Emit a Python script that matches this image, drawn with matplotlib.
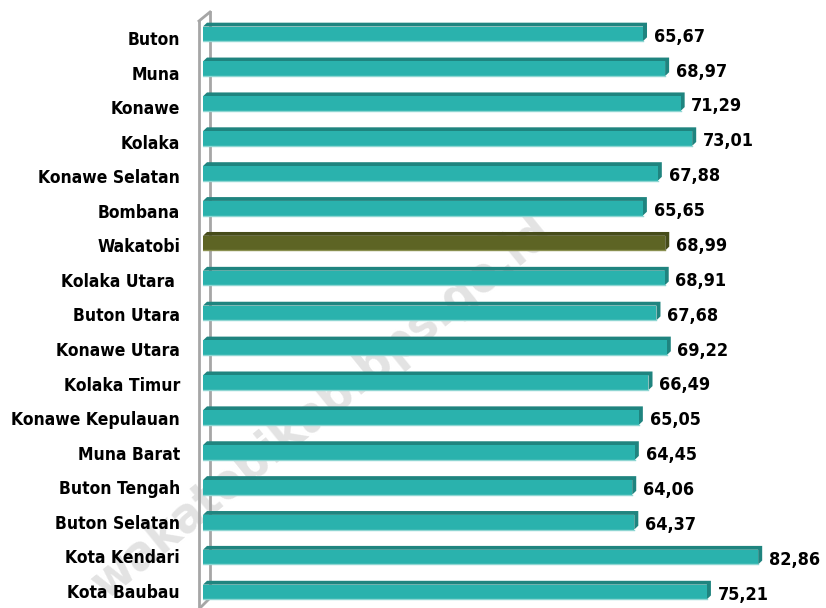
import matplotlib.pyplot as plt
from matplotlib.lines import Line2D

# data
kabupaten = ['Buton', 'Muna', 'Konawe', 'Kolaka', 'Konawe Selatan', 'Bombana',
             'Wakatobi', 'Kolaka Utara ', 'Buton Utara', 'Konawe Utara',
             'Kolaka Timur', 'Konawe Kepulauan', 'Muna Barat', 'Buton Tengah',
             'Buton Selatan', 'Kota Kendari', 'Kota Baubau']
nilai = [65.67, 68.97, 71.29, 73.01, 67.88, 65.65, 68.99, 68.91, 67.68, 69.22,
         66.49, 65.05, 64.45, 64.06, 64.37, 82.86, 75.21]
sorot = 'Wakatobi'

font = ['DejaVu Sans']
teal, teal_dark, teal_light = '#2ab2ad', '#1f847f', '#8ed6d2'
olive, olive_dark = '#5d6424', '#464c1a'

fig = plt.figure(figsize=(8.26, 6.08), dpi=100)
ax = fig.add_axes([203 / 826, 0, 1 - 203 / 826, 1])
ax.set_xlim(0, 623 / 6.7)
ax.set_ylim(16.46, -0.97)
ax.axis('off')

# watermark (di belakang batang)
ax.text(0.39, 0.33, 'wakatobikab.bps.go.id', rotation=39, fontsize=36,
        fontweight='bold', fontstretch='condensed', color='#e3e3e3',
        ha='center', va='center', family=font, zorder=0,
        transform=fig.transFigure, clip_on=False)

# dinding 3D di kiri
wall = '#a6a6a6'
for xs, ys in [([199, 199], [608, 21]), ([199, 210], [21, 12]),
               ([210, 210], [12, 598]), ([210, 201], [598, 607])]:
    ax.add_artist(Line2D([x / 826 for x in xs], [1 - y / 608 for y in ys],
                         color=wall, lw=2, zorder=1, transform=fig.transFigure,
                         clip_on=False))

h, t, dx = 0.42, 0.11, 0.6
for i, (nama, v) in enumerate(zip(kabupaten, nilai)):
    face, dark = (olive, olive_dark) if nama == sorot else (teal, teal_dark)
    y0, y1 = i - h / 2, i + h / 2
    ax.fill([0, dx, v + dx, v + dx, v, v], [y0, y0 - t, y0 - t, y1 - t, y1, y0],
            color=dark, lw=0, zorder=2)
    ax.barh(i, v, height=h, color=face, lw=0, zorder=3)
    ax.plot([0, v], [y1, y1], color=teal_light if nama != sorot else '#8a9050',
            lw=1, zorder=4)
    ax.text(v + dx + 1.0, i + 0.08, f'{v:.2f}'.replace('.', ','), va='center',
            ha='left', fontsize=13, fontweight='bold', fontstretch='condensed',
            family=font, zorder=5)
    fig.text(180 / 826, 1 - (40 + i * 34.56) / 608, nama, ha='right',
             va='center', fontsize=12.5, fontweight='bold',
             fontstretch='condensed', family=font)

fig.savefig('out.png', dpi=100)
